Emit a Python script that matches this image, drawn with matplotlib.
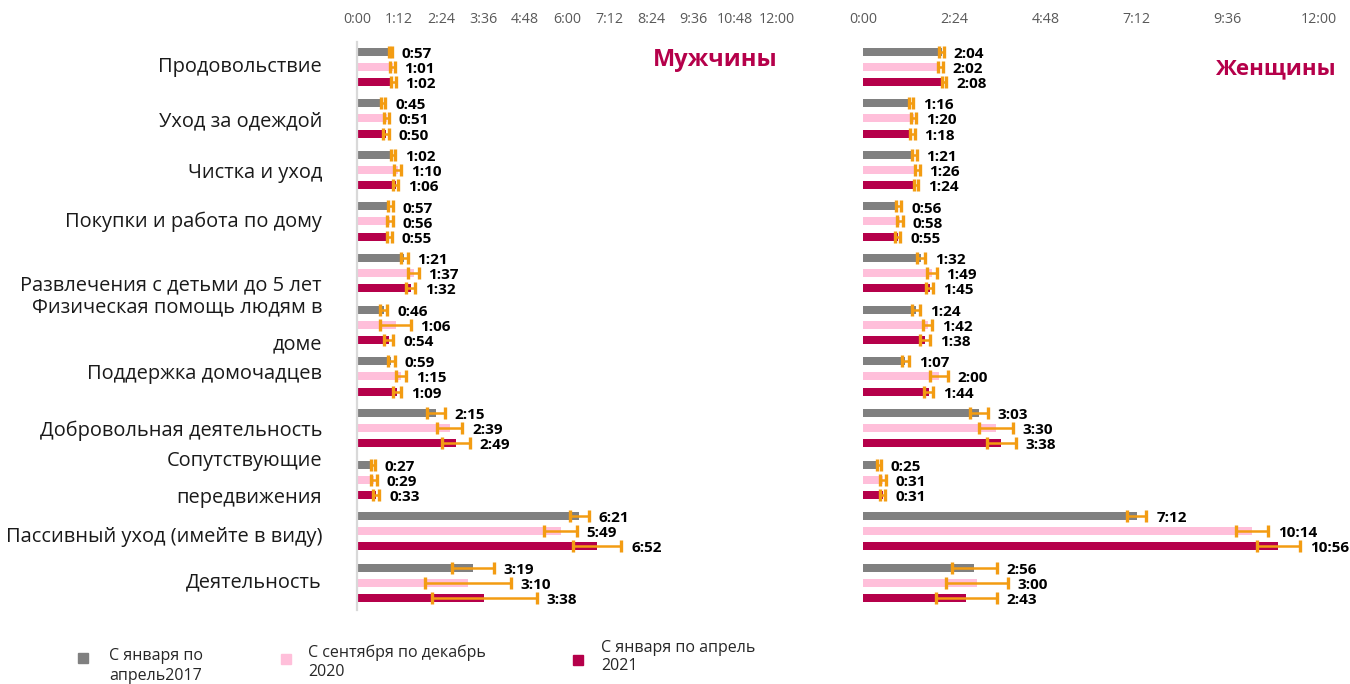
import matplotlib
matplotlib.use('Agg')
import matplotlib.pyplot as plt
import matplotlib.patches as mpatches
from matplotlib.legend_handler import HandlerPatch
from matplotlib import transforms
import numpy as np

plt.rcParams['font.family'] = ['Open Sans', 'DejaVu Sans']

# ---------------- data ----------------
categories = [
    "Продовольствие",
    "Уход за одеждой",
    "Чистка и уход",
    "Покупки и работа по дому",
    "Развлечения с детьми до 5 лет",
    "Физическая помощь людям в\nдоме",
    "Поддержка домочадцев",
    "Добровольная деятельность",
    "Сопутствующие\nпередвижения",
    "Пассивный уход (имейте в виду)",
    "Деятельность",
]
series_names = ["С января по\nапрель2017", "С сентября по декабрь\n2020", "С января по апрель\n2021"]

men_2017 = ["0:57", "0:45", "1:02", "0:57", "1:21", "0:46", "0:59", "2:15", "0:27", "6:21", "3:19"]
men_2020 = ["1:01", "0:51", "1:10", "0:56", "1:37", "1:06", "1:15", "2:39", "0:29", "5:49", "3:10"]
men_2021 = ["1:02", "0:50", "1:06", "0:55", "1:32", "0:54", "1:09", "2:49", "0:33", "6:52", "3:38"]
women_2017 = ["2:04", "1:16", "1:21", "0:56", "1:32", "1:24", "1:07", "3:03", "0:25", "7:12", "2:56"]
women_2020 = ["2:02", "1:20", "1:26", "0:58", "1:49", "1:42", "2:00", "3:30", "0:31", "10:14", "3:00"]
women_2021 = ["2:08", "1:18", "1:24", "0:55", "1:45", "1:38", "1:44", "3:38", "0:31", "10:56", "2:43"]

# error half-widths (hours)
men_err_2017 = [0.05, 0.06, 0.06, 0.07, 0.10, 0.10, 0.10, 0.26, 0.06, 0.27, 0.60]
men_err_2020 = [0.06, 0.07, 0.10, 0.09, 0.15, 0.44, 0.15, 0.36, 0.08, 0.46, 1.23]
men_err_2021 = [0.07, 0.08, 0.07, 0.07, 0.13, 0.14, 0.12, 0.40, 0.09, 0.69, 1.50]
women_err_2017 = [0.06, 0.06, 0.06, 0.075, 0.11, 0.10, 0.10, 0.24, 0.05, 0.26, 0.58]
women_err_2020 = [0.06, 0.06, 0.06, 0.08, 0.12, 0.12, 0.24, 0.45, 0.08, 0.43, 0.82]
women_err_2021 = [0.06, 0.06, 0.06, 0.065, 0.105, 0.14, 0.12, 0.38, 0.075, 0.57, 0.80]

men_ticks = ["0:00", "1:12", "2:24", "3:36", "4:48", "6:00", "7:12", "8:24", "9:36", "10:48", "12:00"]
women_ticks = ["0:00", "2:24", "4:48", "7:12", "9:36", "12:00"]

panel_titles = ["Мужчины", "Женщины"]

# ---------------- style ----------------
colors = ["#808080", "#FFBFDA", "#B5004A"]
err_color = "#F39C12"
title_color = "#B5004A"
W, H = 1350, 684


def to_h(s):
    h, m = s.split(":")
    return int(h) + int(m) / 60.0


fig = plt.figure(figsize=(W / 100, H / 100), dpi=100)

pitch = 51.6           # px between categories
y0_px = 66.7           # px of first category centre
top_px, bot_px = 42, 610
ylim = (len(categories) - 1 + (bot_px - (y0_px + pitch * (len(categories) - 1))) / pitch,
        -(y0_px - top_px) / pitch)
offsets = [-15.0 / pitch, 0.0, 15.3 / pitch]
bar_h = 8.0 / pitch


def make_ax(x0_px, px_per_h, xmax):
    width_px = px_per_h * xmax
    ax = fig.add_axes([x0_px / W, 1 - bot_px / H, width_px / W, (bot_px - top_px) / H])
    ax.set_xlim(0, xmax)
    ax.set_ylim(*ylim)
    for s in ax.spines.values():
        s.set_visible(False)
    ax.set_yticks([])
    ax.xaxis.tick_top()
    ax.tick_params(axis='x', length=0, pad=11, labelsize=10.3, labelcolor='#595959')
    return ax


ax_m = make_ax(357, 35.0, 12.8)
ax_w = make_ax(863, 38.0, 12.8)
ax_m.spines['left'].set_visible(True)
ax_m.spines['left'].set_color('#D9D9D9')
ax_m.spines['left'].set_linewidth(1.6)

for ax, ticks in ((ax_m, men_ticks), (ax_w, women_ticks)):
    ax.set_xticks([to_h(t) for t in ticks])
    ax.set_xticklabels(ticks)

ypos = np.arange(len(categories))
panels = [
    (ax_m, [men_2017, men_2020, men_2021], [men_err_2017, men_err_2020, men_err_2021]),
    (ax_w, [women_2017, women_2020, women_2021], [women_err_2017, women_err_2020, women_err_2021]),
]
for ax, vals_list, errs_list in panels:
    for k, (vals, errs) in enumerate(zip(vals_list, errs_list)):
        v = np.array([to_h(s) for s in vals])
        ax.barh(ypos + offsets[k], v, height=bar_h, color=colors[k], xerr=errs,
                error_kw=dict(ecolor=err_color, elinewidth=1.8, capsize=4.6, capthick=2.4),
                zorder=2)
        for i, s in enumerate(vals):
            ax.annotate(s, xy=(v[i] + errs[i], ypos[i] + offsets[k]), xytext=(7, -1.5),
                        textcoords='offset points', ha='left', va='center',
                        fontsize=11, fontweight='bold', color='black', zorder=3)

# category labels
label_nudge_px = [0, 3, 3, 0, 12, 1, -2, 3, 0, 6, 0]
trans = transforms.blended_transform_factory(ax_m.transAxes, ax_m.transData)
for i, c in enumerate(categories):
    ax_m.text(-35 / (35.0 * 12.8), ypos[i] + label_nudge_px[i] / pitch, c, transform=trans,
              ha='right', va='center', fontsize=14.4, color='#1a1a1a', linespacing=2.1,
              multialignment='right')

# panel titles
fig.text(715 / W, 1 - 60 / H, panel_titles[0], ha='center', va='center', fontsize=17,
         fontweight='bold', color=title_color)
fig.text(1275 / W, 1 - 69 / H, panel_titles[1], ha='center', va='center', fontsize=16,
         fontweight='bold', color=title_color)


# legend (one entry per legend to match positions)
def make_handler(dy):
    def pf(legend, orig_handle, xdescent, ydescent, width, height, fontsize):
        s = min(width, height)
        return mpatches.Rectangle((-xdescent + (width - s) / 2, -ydescent + (height - s) / 2 + dy), s, s)
    return HandlerPatch(patch_func=pf)


leg_fs = 11.5
hs = 7.2 / leg_fs
leg_specs = [(78, 666, 5.8, 1.3), (281, 662, 2.2, 1.05), (573, 657, -1.8, 1.15)]
for k, (xpx, ypx, dy, pad) in enumerate(leg_specs):
    h = mpatches.Patch(color=colors[k])
    lg = fig.legend([h], [series_names[k]], loc='center left',
                    bbox_to_anchor=(xpx / W, 1 - ypx / H), frameon=False, fontsize=leg_fs,
                    borderpad=0, borderaxespad=0, handlelength=hs, handleheight=hs,
                    handletextpad=pad, handler_map={h: make_handler(dy)})
    for t in lg.get_texts():
        t.set_linespacing(1.25)
        t.set_color('#262626')

fig.savefig('out.png', dpi=100)
